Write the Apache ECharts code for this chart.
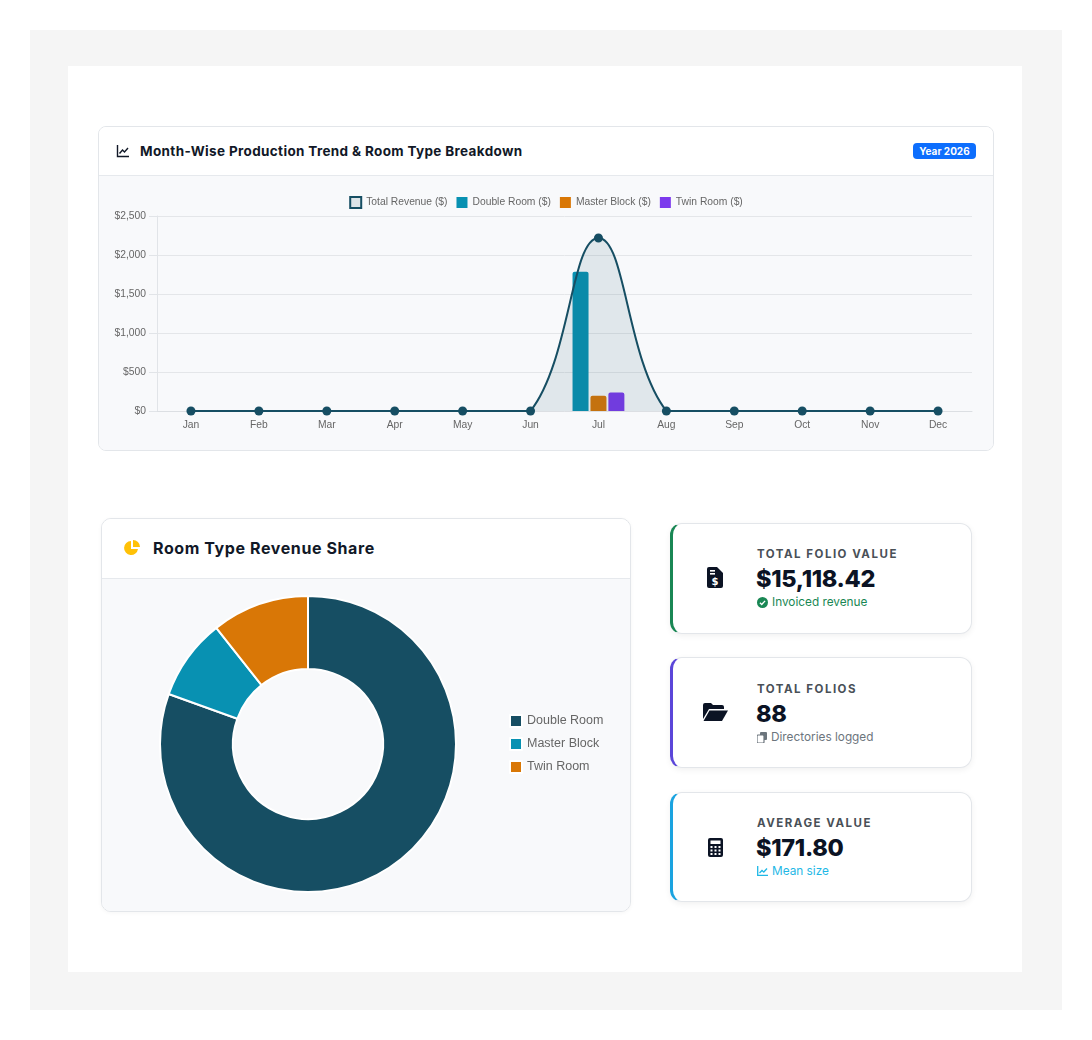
<!DOCTYPE html>
<html>
<head>
<meta charset="utf-8">
<script src="https://cdn.jsdelivr.net/npm/echarts@6/dist/echarts.min.js"></script>
<style>
  html, body { margin: 0; padding: 0; background: #ffffff; width: 1092px; height: 1040px; overflow: hidden; font-family: Inter, "Noto Sans", sans-serif; }
  .abs { position: absolute; box-sizing: border-box; }
  #outer { left: 30px; top: 30px; width: 1032px; height: 980px; background: #f5f5f5; }
  #inner { left: 68px; top: 66px; width: 954px; height: 906px; background: #ffffff; }
  .card { background: #ffffff; border: 1px solid #e3e6ea; overflow: hidden; }
  .cardBody { background: #f8f9fb; }
  .title { color: #111827; font-weight: 700; white-space: nowrap; }
  .kpi { background: #fff; border: 1px solid #e3e6ea; border-radius: 12px; box-shadow: 0 2px 6px rgba(0,0,0,0.06); }
  .kpiLabel { color: #495057; font-size: 11.5px; font-weight: 700; letter-spacing: 1.5px; white-space: nowrap; }
  .kpiValue { color: #0b1324; font-size: 23.5px; font-weight: 800; letter-spacing: -0.3px; white-space: nowrap; }
  .kpiSub { font-size: 11.8px; white-space: nowrap; display: flex; align-items: center; gap: 4px; }
</style>
</head>
<body>
<div id="outer" class="abs"></div>
<div id="inner" class="abs"></div>

<!-- Top card -->
<div class="abs card" style="left:98px;top:126px;width:896px;height:325px;border-radius:8px;">
  <div class="abs" style="left:0;top:0;width:894px;height:49px;background:#fff;border-bottom:1px solid #e6e9ed;"></div>
  <div class="abs cardBody" style="left:0;top:49px;width:894px;height:274px;"></div>
</div>
<svg class="abs" style="left:116px;top:144px" width="14" height="14" viewBox="0 0 14 14">
  <path d="M1.5 1 V12.5 H13" fill="none" stroke="#111827" stroke-width="1.4"/>
  <path d="M3.5 9.5 L6.5 6 L8.5 8 L12 4" fill="none" stroke="#111827" stroke-width="1.4"/>
</svg>
<div class="abs title" style="left:140px;top:142px;font-size:13.5px;line-height:18px;letter-spacing:0.35px;">Month-Wise Production Trend &amp; Room Type Breakdown</div>
<div class="abs" style="left:913px;top:143px;width:63px;height:16px;background:#0d6efd;border-radius:4px;color:#fff;font-size:10px;font-weight:700;line-height:16px;text-align:center;">Year 2026</div>
<div id="lineChart" class="abs" style="left:99px;top:176px;width:894px;height:273px;"></div>

<!-- Bottom left card -->
<div class="abs card" style="left:101px;top:518px;width:530px;height:394px;border-radius:10px;box-shadow:0 1px 4px rgba(0,0,0,0.04);">
  <div class="abs" style="left:0;top:0;width:528px;height:60px;background:#fff;border-bottom:1px solid #e6e9ed;"></div>
  <div class="abs cardBody" style="left:0;top:60px;width:528px;height:332px;"></div>
</div>
<svg class="abs" style="left:123px;top:539px" width="18" height="18" viewBox="0 0 18 18">
  <path d="M8 2 A7 7 0 1 0 15 10 L8 10 Z" fill="#ffc107"/>
  <path d="M10 1 A7 7 0 0 1 17 8 L10 8 Z" fill="#ffc107"/>
</svg>
<div class="abs title" style="left:153px;top:538px;font-size:16px;line-height:20px;letter-spacing:0.6px;">Room Type Revenue Share</div>
<div id="pieChart" class="abs" style="left:102px;top:579px;width:528px;height:331px;"></div>

<!-- KPI cards -->
<div class="abs kpi" style="left:670px;top:523px;width:302px;height:111px;border-left:3px solid #198754;"></div>
<svg class="abs" style="left:707px;top:567px" width="16" height="21" viewBox="0 0 16 21">
  <path d="M2 0 H10 L16 6 V19 A2 2 0 0 1 14 21 H2 A2 2 0 0 1 0 19 V2 A2 2 0 0 1 2 0 Z" fill="#0b1324"/>
  <rect x="3" y="3" width="5" height="1.6" fill="#fff"/><rect x="3" y="6" width="5" height="1.6" fill="#fff"/>
  <text x="8" y="18" font-size="10" font-weight="700" fill="#fff" text-anchor="middle" font-family="DejaVu Sans">$</text>
</svg>
<div class="abs kpiLabel" style="left:757px;top:547px;">TOTAL FOLIO VALUE</div>
<div class="abs kpiValue" style="left:756px;top:564px;">$15,118.42</div>
<div class="abs kpiSub" style="left:757px;top:595px;color:#198754;">
  <svg width="11" height="11" viewBox="0 0 12 12"><circle cx="6" cy="6" r="6" fill="#198754"/><path d="M3.2 6.2 L5.2 8.1 L8.8 4.2" fill="none" stroke="#fff" stroke-width="1.5"/></svg>
  <span>Invoiced revenue</span>
</div>

<div class="abs kpi" style="left:670px;top:657px;width:302px;height:111px;border-left:3px solid #5b46d9;"></div>
<svg class="abs" style="left:703px;top:703px" width="25" height="18" viewBox="0 0 25 18">
  <path d="M0 2 A2 2 0 0 1 2 0 H8 L10 2 H19 A2 2 0 0 1 21 4 V6 H6 L0 16 Z" fill="#0b1324"/>
  <path d="M6.5 7.5 H25 L19 18 H0.5 Z" fill="#0b1324"/>
</svg>
<div class="abs kpiLabel" style="left:757px;top:682px;">TOTAL FOLIOS</div>
<div class="abs kpiValue" style="left:756px;top:699px;">88</div>
<div class="abs kpiSub" style="left:757px;top:730px;color:#6c757d;">
  <svg width="10" height="11" viewBox="0 0 10 11"><rect x="3" y="0" width="7" height="8" rx="1" fill="#6c757d"/><rect x="0" y="3" width="7" height="8" rx="1" fill="#fff" stroke="#6c757d" stroke-width="1.2"/></svg>
  <span>Directories logged</span>
</div>

<div class="abs kpi" style="left:670px;top:792px;width:302px;height:110px;border-left:3px solid #1aa3e0;"></div>
<svg class="abs" style="left:708px;top:838px" width="15" height="19" viewBox="0 0 15 19">
  <rect x="0" y="0" width="15" height="19" rx="2" fill="#0b1324"/>
  <rect x="2.5" y="2.5" width="10" height="3.5" fill="#fff"/>
  <g fill="#fff">
    <rect x="2.5" y="8" width="2" height="2"/><rect x="6.5" y="8" width="2" height="2"/><rect x="10.5" y="8" width="2" height="2"/>
    <rect x="2.5" y="11.5" width="2" height="2"/><rect x="6.5" y="11.5" width="2" height="2"/><rect x="10.5" y="11.5" width="2" height="2"/>
    <rect x="2.5" y="15" width="2" height="2"/><rect x="6.5" y="15" width="2" height="2"/><rect x="10.5" y="15" width="2" height="2"/>
  </g>
</svg>
<div class="abs kpiLabel" style="left:757px;top:816px;">AVERAGE VALUE</div>
<div class="abs kpiValue" style="left:756px;top:833px;">$171.80</div>
<div class="abs kpiSub" style="left:757px;top:864px;color:#1fb8e6;">
  <svg width="11" height="10" viewBox="0 0 11 10"><path d="M0.7 0 V9.3 H11" fill="none" stroke="#1fb8e6" stroke-width="1.3"/><path d="M2.5 7 L5 4.5 L6.8 6 L10 2.5" fill="none" stroke="#1fb8e6" stroke-width="1.3"/></svg>
  <span>Mean size</span>
</div>

<script>
// ---- Data ----
const months = ['Jan','Feb','Mar','Apr','May','Jun','Jul','Aug','Sep','Oct','Nov','Dec'];
const totalRevenue = [0,0,0,0,0,0,2218,0,0,0,0,0];
const doubleRoom   = [0,0,0,0,0,0,1785,0,0,0,0,0];
const masterBlock  = [0,0,0,0,0,0,197,0,0,0,0,0];
const twinRoom     = [0,0,0,0,0,0,236,0,0,0,0,0];
const yTicks = { min: 0, max: 2500, interval: 500 };
const shareNames  = ['Double Room','Master Block','Twin Room'];
const shareValues = [1785, 197, 236];

const C_DARK = '#164e63', C_TEAL = '#0891b2', C_ORANGE = '#d97706', C_PURPLE = '#7c3aed';
const FONT = 'Liberation Sans, Arial, sans-serif';
const TENSION = 0.4;

function money(v) { return '$' + v.toLocaleString('en-US'); }

// Spline (tension-based) through points projected by the chart's own axes
function renderTotal(params, api) {
  const i = params.dataIndex;
  const pt = api.coord([i, api.value(1)]);
  const children = [{ type: 'circle', z2: 10, shape: { cx: pt[0], cy: pt[1], r: 4.5 }, style: { fill: C_DARK } }];
  if (i === 0) {
    const cs = params.coordSys;
    const left = cs.x, right = cs.x + cs.width, top = cs.y, bottom = cs.y + cs.height;
    const pts = totalRevenue.map((v, k) => { const c = api.coord([k, v]); return { x: c[0], y: c[1] }; });
    const n = pts.length;
    const cap = (v, a, b) => Math.max(Math.min(v, b), a);
    pts.forEach((p, k) => {
      const prev = pts[Math.max(k - 1, 0)], next = pts[Math.min(k + 1, n - 1)];
      const d01 = Math.hypot(p.x - prev.x, p.y - prev.y), d12 = Math.hypot(next.x - p.x, next.y - p.y);
      let s01 = d01 / (d01 + d12), s12 = d12 / (d01 + d12);
      if (isNaN(s01)) s01 = 0; if (isNaN(s12)) s12 = 0;
      const fa = TENSION * s01, fb = TENSION * s12;
      p.c1x = cap(p.x - fa * (next.x - prev.x), left, right);
      p.c1y = cap(p.y - fa * (next.y - prev.y), top, bottom);
      p.c2x = cap(p.x + fb * (next.x - prev.x), left, right);
      p.c2y = cap(p.y + fb * (next.y - prev.y), top, bottom);
    });
    let d = 'M' + pts[0].x + ' ' + pts[0].y;
    for (let k = 1; k < n; k++) {
      const a = pts[k - 1], b = pts[k];
      d += ' C' + a.c2x + ' ' + a.c2y + ' ' + b.c1x + ' ' + b.c1y + ' ' + b.x + ' ' + b.y;
    }
    const base = api.coord([0, 0])[1];
    const area = d + ' L' + pts[n - 1].x + ' ' + base + ' L' + pts[0].x + ' ' + base + ' Z';
    children.unshift(
      { type: 'path', z2: 1, shape: { pathData: area }, style: { fill: 'rgba(22,78,99,0.1)', stroke: null } },
      { type: 'path', z2: 5, shape: { pathData: d }, style: { fill: null, stroke: C_DARK, lineWidth: 2 } }
    );
  }
  return { type: 'group', children: children };
}

const lc = echarts.init(document.getElementById('lineChart'));
lc.setOption({
  animation: false,
  textStyle: { fontFamily: FONT },
  legend: {
    top: 15, left: 'center', itemWidth: 11, itemHeight: 11, itemGap: 9,
    textStyle: { fontSize: 10.3, color: '#666', fontFamily: FONT },
    data: [
      { name: 'Total Revenue ($)', icon: 'rect', itemStyle: { color: '#dde4e8', borderColor: C_DARK, borderWidth: 2 } },
      { name: 'Double Room ($)', icon: 'rect' },
      { name: 'Master Block ($)', icon: 'rect' },
      { name: 'Twin Room ($)', icon: 'rect' }
    ]
  },
  grid: { left: 58, right: 21, top: 40, bottom: 38 },
  xAxis: {
    type: 'category', data: months, boundaryGap: true,
    axisLine: { lineStyle: { color: '#dcdfe3' } },
    axisTick: { show: false },
    axisLabel: { color: '#666', fontSize: 10.3, margin: 9, fontFamily: FONT },
    splitLine: { show: false }
  },
  yAxis: {
    type: 'value', min: yTicks.min, max: yTicks.max, interval: yTicks.interval,
    axisLine: { show: true, lineStyle: { color: '#e1e4e8' } },
    axisTick: { show: true, length: 8, lineStyle: { color: '#e1e4e8' } },
    axisLabel: { color: '#666', fontSize: 10.3, margin: 11, formatter: money, fontFamily: FONT },
    splitLine: { lineStyle: { color: '#e4e6e9' } }
  },
  series: [
    {
      name: 'Total Revenue ($)', type: 'custom', z: 5,
      itemStyle: { color: C_DARK },
      data: totalRevenue.map((v, k) => [k, v]),
      encode: { x: 0, y: 1 },
      renderItem: renderTotal
    },
    { name: 'Double Room ($)', type: 'bar', data: doubleRoom, barWidth: 16, barGap: '12%', z: 2,
      itemStyle: { color: C_TEAL, borderRadius: [2,2,0,0] } },
    { name: 'Master Block ($)', type: 'bar', data: masterBlock, barWidth: 16, barGap: '12%', z: 2,
      itemStyle: { color: C_ORANGE, borderRadius: [2,2,0,0] } },
    { name: 'Twin Room ($)', type: 'bar', data: twinRoom, barWidth: 16, barGap: '12%', z: 2,
      itemStyle: { color: C_PURPLE, borderRadius: [2,2,0,0] } }
  ]
});

const pc = echarts.init(document.getElementById('pieChart'));
pc.setOption({
  animation: false,
  textStyle: { fontFamily: FONT },
  color: [C_DARK, C_TEAL, C_ORANGE],
  legend: {
    orient: 'vertical', left: 402, top: 130, itemWidth: 12, itemHeight: 12, itemGap: 9,
    icon: 'rect',
    textStyle: { fontSize: 12.5, color: '#666', fontFamily: FONT },
    data: shareNames
  },
  series: [{
    type: 'pie', center: [206, 165], radius: [75, 148], startAngle: 90, clockwise: true,
    label: { show: false }, labelLine: { show: false },
    itemStyle: { borderColor: '#ffffff', borderWidth: 2 },
    data: shareNames.map((n, i) => ({ name: n, value: shareValues[i] }))
  }]
});
</script>
</body>
</html>
